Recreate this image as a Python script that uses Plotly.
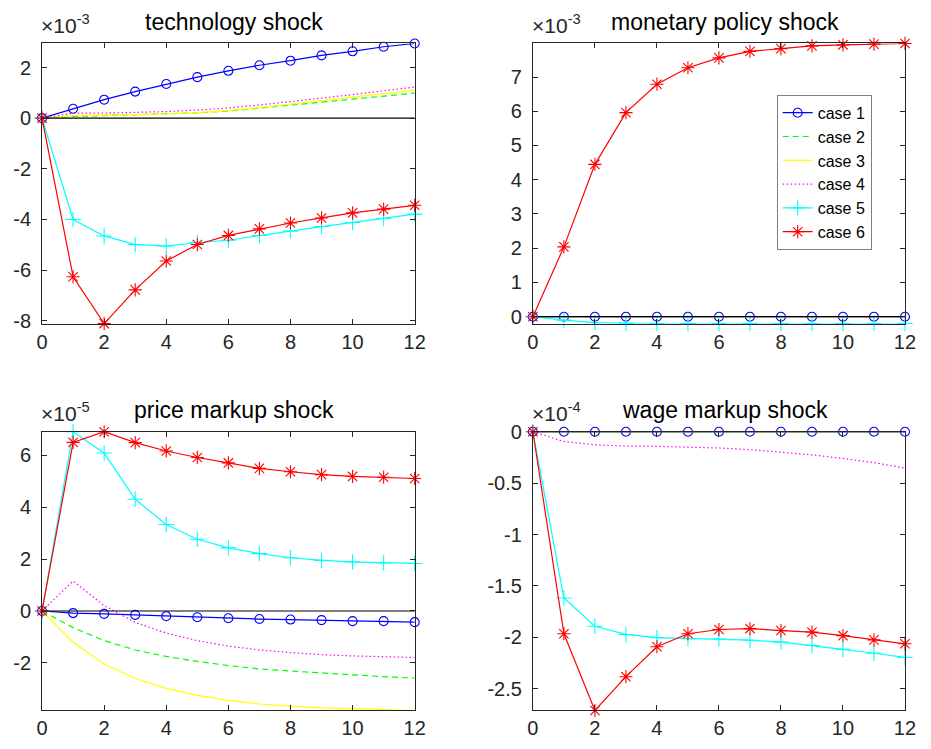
import plotly.graph_objects as go

# Impulse responses over 12 periods for six model cases
periods = list(range(13))
case_names = ["case 1", "case 2", "case 3", "case 4", "case 5", "case 6"]

# technology shock, units of 1e-3
tech_c1 = [0, 0.37, 0.73, 1.05, 1.35, 1.62, 1.87, 2.09, 2.27, 2.48, 2.64, 2.82, 2.95]
tech_c2 = [0, 0.07, 0.10, 0.13, 0.16, 0.21, 0.28, 0.39, 0.51, 0.63, 0.75, 0.87, 0.99]
tech_c3 = [0, 0.10, 0.12, 0.14, 0.17, 0.22, 0.30, 0.42, 0.55, 0.69, 0.83, 0.97, 1.11]
tech_c4 = [0, 0.20, 0.20, 0.22, 0.26, 0.32, 0.40, 0.52, 0.65, 0.79, 0.93, 1.08, 1.23]
tech_c5 = [0, -4.00, -4.65, -4.99, -5.05, -4.91, -4.82, -4.63, -4.46, -4.28, -4.12, -3.96, -3.79]
tech_c6 = [0, -6.26, -8.11, -6.78, -5.64, -4.99, -4.63, -4.37, -4.14, -3.94, -3.74, -3.59, -3.44]

# monetary policy shock, units of 1e-3
mon_c1 = [0] * 13
mon_c2 = [0] * 13
mon_c3 = [0] * 13
mon_c4 = [0] * 13
mon_c5 = [0, -0.10, -0.17, -0.19, -0.20, -0.20, -0.20, -0.20, -0.20, -0.20, -0.20, -0.20, -0.20]
mon_c6 = [0, 2.04, 4.45, 5.96, 6.79, 7.27, 7.56, 7.75, 7.83, 7.91, 7.94, 7.96, 7.98]

# price markup shock, units of 1e-5
price_c1 = [0, -0.08, -0.11, -0.15, -0.20, -0.24, -0.28, -0.31, -0.33, -0.35, -0.39, -0.39, -0.43]
price_c2 = [0, -0.64, -1.14, -1.50, -1.75, -1.94, -2.10, -2.23, -2.31, -2.39, -2.46, -2.53, -2.58]
price_c3 = [0, -1.20, -2.04, -2.60, -2.98, -3.25, -3.44, -3.58, -3.66, -3.73, -3.76, -3.80, -3.83]
price_c4 = [0, 1.15, 0.21, -0.44, -0.85, -1.14, -1.35, -1.50, -1.60, -1.68, -1.73, -1.76, -1.79]
price_c5 = [0, 6.90, 6.08, 4.30, 3.33, 2.76, 2.43, 2.21, 2.05, 1.95, 1.89, 1.85, 1.83]
price_c6 = [0, 6.49, 6.90, 6.48, 6.16, 5.91, 5.70, 5.49, 5.36, 5.25, 5.18, 5.15, 5.10]

# wage markup shock, units of 1e-4
wage_c1 = [0] * 13
wage_c2 = [0] * 13
wage_c3 = [0] * 13
wage_c4 = [0, -0.095, -0.127, -0.139, -0.142, -0.149, -0.158, -0.174, -0.196, -0.225, -0.260, -0.300, -0.354]
wage_c5 = [0, -1.617, -1.892, -1.972, -2.003, -2.013, -2.016, -2.028, -2.047, -2.079, -2.117, -2.155, -2.196]
wage_c6 = [0, -1.965, -2.712, -2.383, -2.092, -1.965, -1.924, -1.915, -1.934, -1.949, -1.984, -2.025, -2.063]

# y tick values per panel (in the scaled units above)
tech_ticks = [-8, -6, -4, -2, 0, 2]
mon_ticks = [0, 1, 2, 3, 4, 5, 6, 7]
price_ticks = [-2, 0, 2, 4, 6]
wage_ticks = [-2.5, -2, -1.5, -1, -0.5, 0]
x_ticks = [0, 2, 4, 6, 8, 10, 12]

W, H = 931, 749
FONT = "Liberation Sans, Arial, Helvetica, sans-serif"
AX_COLOR = "#262626"

styles = [
    dict(color="#0000FF", dash="solid", symbol="circle-open", size=9),
    dict(color="#00FF00", dash="6px,4px", symbol=None, size=0),
    dict(color="#FFFF00", dash="solid", symbol=None, size=0),
    dict(color="#FF00FF", dash="1.5px,2.5px", symbol=None, size=0),
    dict(color="#00FFFF", dash="solid", symbol="cross-thin-open", size=11),
    dict(color="#FF0000", dash="solid", symbol="asterisk-open", size=11),
]

panels = [
    dict(title="technology shock", exp="-3", ticks=tech_ticks,
         series=[tech_c1, tech_c2, tech_c3, tech_c4, tech_c5, tech_c6],
         px=(36.7, 416.3), py=(33.3, 320.7)),
    dict(title="monetary policy shock", exp="-3", ticks=mon_ticks,
         series=[mon_c1, mon_c2, mon_c3, mon_c4, mon_c5, mon_c6],
         px=(536.7, 915.7), py=(33.3, 320.7)),
    dict(title="price markup shock", exp="-5", ticks=price_ticks,
         series=[price_c1, price_c2, price_c3, price_c4, price_c5, price_c6],
         px=(36.7, 416.3), py=(431.7, 717.7)),
    dict(title="wage markup shock", exp="-4", ticks=wage_ticks,
         series=[wage_c1, wage_c2, wage_c3, wage_c4, wage_c5, wage_c6],
         px=(536.7, 915.7), py=(431.7, 717.7)),
]

fig = go.Figure()
layout = dict(
    width=W, height=H,
    margin=dict(l=0, r=0, t=0, b=0),
    paper_bgcolor="white", plot_bgcolor="white",
    font=dict(family=FONT, size=20, color=AX_COLOR),
    showlegend=True,
    legend=dict(
        x=785 / W, y=1 - 86 / H, xanchor="left", yanchor="top",
        bgcolor="white", bordercolor="#7F7F7F", borderwidth=1,
        font=dict(family=FONT, size=16, color="black"),
        tracegroupgap=0, itemwidth=30,
    ),
    annotations=[],
)


def fmt(v):
    return f"{v:g}"


for i, p in enumerate(panels):
    n = "" if i == 0 else str(i + 1)
    xref, yref = "x" + n, "y" + n
    all_vals = [v for s in p["series"] for v in s]
    ymin, ymax = min(all_vals), max(all_vals)

    for k, (vals, st) in enumerate(zip(p["series"], styles)):
        has_marker = st["symbol"] is not None
        fig.add_trace(go.Scatter(
            x=periods, y=vals, xaxis=xref, yaxis=yref,
            name=case_names[k], legendgroup=case_names[k], showlegend=(i == 1),
            mode="lines+markers" if has_marker else "lines",
            line=dict(color=st["color"], width=1.2, dash=st["dash"]),
            marker=dict(symbol=st["symbol"], size=st["size"],
                        color=st["color"], line=dict(color=st["color"], width=1.1))
            if has_marker else None,
            cliponaxis=False,
        ))
    # horizontal reference line at zero
    fig.add_trace(go.Scatter(
        x=periods, y=[0] * len(periods), xaxis=xref, yaxis=yref,
        mode="lines", line=dict(color="black", width=1.2),
        showlegend=False, hoverinfo="skip",
    ))

    x0, x1 = p["px"]
    y0, y1 = p["py"]
    axis_common = dict(
        showline=True, mirror="allticks", linecolor=AX_COLOR, linewidth=1,
        ticks="inside", ticklen=5, tickcolor=AX_COLOR, tickwidth=1,
        showgrid=False, zeroline=False,
        tickfont=dict(family=FONT, size=20, color=AX_COLOR),
    )
    layout["xaxis" + n] = dict(
        domain=[x0 / W, x1 / W], anchor=yref, range=[0, 12],
        tickvals=x_ticks, ticktext=[str(t) for t in x_ticks], **axis_common,
    )
    layout["yaxis" + n] = dict(
        domain=[1 - y1 / H, 1 - y0 / H], anchor=xref, range=[ymin, ymax],
        tickvals=p["ticks"], ticktext=[fmt(t) for t in p["ticks"]],
        ticklabelstandoff=6, **axis_common,
    )

    layout["annotations"].append(dict(
        text=p["title"], xref="paper", yref="paper",
        x=((x0 + x1) / 2 + 6) / W, y=1 - (y0 - 22) / H,
        xanchor="center", yanchor="middle", showarrow=False,
        font=dict(family=FONT, size=23, color="black"),
    ))
    layout["annotations"].append(dict(
        text="×10<sup>" + p["exp"] + "</sup>", xref="paper", yref="paper",
        x=(x0 - 3) / W, y=1 - (y0 - 5) / H,
        xanchor="left", yanchor="bottom", showarrow=False,
        font=dict(family=FONT, size=21, color=AX_COLOR),
    ))

fig.update_layout(**layout)
fig.write_html("out.html")
